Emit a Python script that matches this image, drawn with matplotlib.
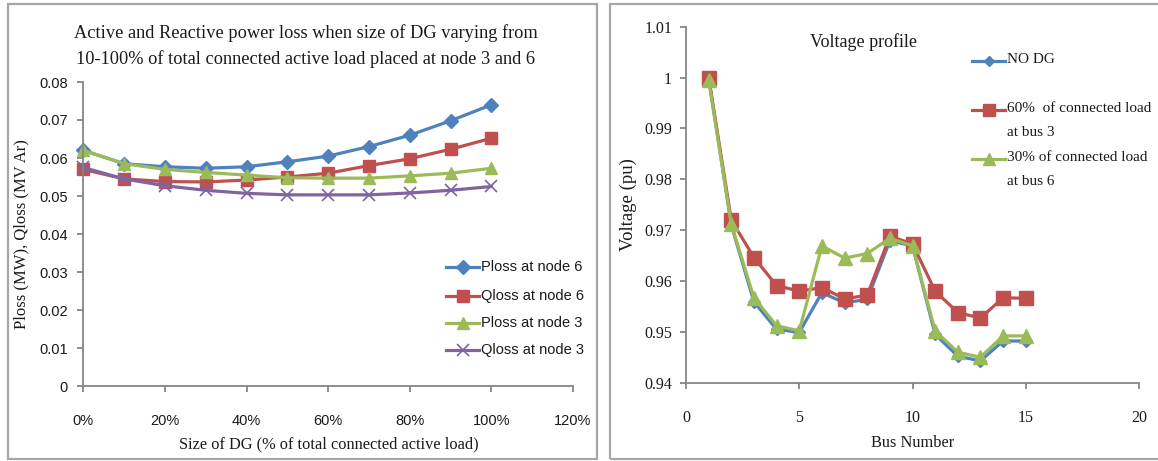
import matplotlib
matplotlib.use("Agg")
import matplotlib.pyplot as plt
from matplotlib.lines import Line2D
from matplotlib.patches import Rectangle

# ---------------- data ----------------
dg_size = [0.0, 0.1, 0.2, 0.3, 0.4, 0.5, 0.6, 0.7, 0.8, 0.9, 1.0]
ploss_node6 = [0.0620, 0.0585, 0.0577, 0.0573, 0.0577, 0.0590, 0.0605, 0.0630, 0.0660, 0.0698, 0.0740]
qloss_node6 = [0.0570, 0.0545, 0.0538, 0.0537, 0.0542, 0.0550, 0.0560, 0.0580, 0.0598, 0.0623, 0.0652]
ploss_node3 = [0.0620, 0.0585, 0.0570, 0.0562, 0.0555, 0.0548, 0.0547, 0.0547, 0.0553, 0.0560, 0.0573]
qloss_node3 = [0.0575, 0.0545, 0.0527, 0.0515, 0.0507, 0.0503, 0.0503, 0.0503, 0.0508, 0.0515, 0.0525]
left_labels = ["Ploss at node 6", "Qloss at node 6", "Ploss at node 3", "Qloss at node 3"]
left_xticks = ["0%", "20%", "40%", "60%", "80%", "100%", "120%"]

bus = list(range(1, 16))
v_no_dg = [1.0, 0.9710, 0.9559, 0.9505, 0.9499, 0.9577, 0.9557, 0.9564, 0.9679, 0.9669,
           0.9495, 0.9452, 0.9443, 0.9482, 0.9482]
v_60_bus3 = [1.0, 0.9720, 0.9646, 0.9591, 0.9580, 0.9587, 0.9565, 0.9572, 0.9688, 0.9673,
             0.9580, 0.9538, 0.9527, 0.9567, 0.9566]
v_30_bus6 = [0.9995, 0.9712, 0.9567, 0.9512, 0.9502, 0.9669, 0.9645, 0.9654, 0.9684, 0.9669,
             0.9502, 0.9460, 0.9450, 0.9492, 0.9492]
right_labels = ["NO DG", "60%  of connected load\nat bus 3", "30% of connected load\nat bus 6"]

# ---------------- style ----------------
BLUE, RED, GREEN, PURPLE = "#4F81BD", "#C0504D", "#9BBB59", "#8064A2"
AX_COL = "#868686"
TXT = "#1a1a1a"
SERIF = ["Liberation Serif", "DejaVu Serif"]
SANS = ["Liberation Sans Narrow", "Liberation Sans", "DejaVu Sans"]

W, H = 1158, 461
fig = plt.figure(figsize=(W / 100, H / 100), dpi=100)
fig.patch.set_facecolor("white")


def px_axes(x0, x1, ytop, ybot):
    return fig.add_axes([x0 / W, (H - ybot) / H, (x1 - x0) / W, (ybot - ytop) / H])


def frame(x0, y0, x1, y1):
    fig.add_artist(Rectangle((x0 / W, (H - y1) / H), (x1 - x0) / W, (y1 - y0) / H,
                             transform=fig.transFigure, fill=False,
                             edgecolor="#A6A6A6", linewidth=1.6))


frame(8, 4, 597, 459)
frame(610, 4, 1170, 459)


def style_axes(ax):
    for s in ("top", "right"):
        ax.spines[s].set_visible(False)
    for s in ("left", "bottom"):
        ax.spines[s].set_color(AX_COL)
        ax.spines[s].set_linewidth(1.3)
    ax.tick_params(axis="both", direction="out", length=4, width=1.3, color=AX_COL,
                   labelcolor=TXT)
    ax.set_facecolor("none")


# ---------------- left chart ----------------
axL = px_axes(83.3, 573, 82, 386)
style_axes(axL)
series_L = [
    (ploss_node6, BLUE, "D", 7, 1.0),
    (qloss_node6, RED, "s", 9, 1.0),
    (ploss_node3, GREEN, "^", 9, 1.0),
    (qloss_node3, PURPLE, "x", 8, 1.2),
]
for vals, c, m, ms, mew in series_L:
    axL.plot(dg_size, vals, color=c, lw=2.3, marker=m, ms=ms, mec=c, mfc=c, mew=mew,
             clip_on=False)
axL.set_xlim(0, 1.2)
axL.set_ylim(0, 0.08)
axL.set_xticks([i * 0.2 for i in range(7)])
axL.set_xticklabels(left_xticks, family=SANS, fontsize=10.5)
axL.set_yticks([i * 0.01 for i in range(9)])
axL.set_yticklabels(["0"] + ["%.2f" % (i * 0.01) for i in range(1, 9)], family=SANS, fontsize=10.5)
axL.tick_params(axis="x", pad=16)
axL.tick_params(axis="y", pad=7)

fig.text(306 / W, 1 - 46 / H,
         "Active and Reactive power loss when size of DG varying from\n"
         "10-100% of total connected active load placed at node 3 and 6",
         ha="center", va="center", family=SERIF, fontsize=13.2, color=TXT, linespacing=1.55)
fig.text(21 / W, 1 - 234 / H, "Ploss (MW), Qloss (MV Ar)", rotation=90, ha="center",
         va="center", family=SERIF, fontsize=12, color=TXT)
fig.text(329 / W, 1 - 444 / H, "Size of DG (% of total connected active load)", ha="center",
         va="center", family=SERIF, fontsize=11.8, color=TXT)

# manual legend (left)
leg_y = [267, 295.5, 323, 350]
for (vals, c, m, ms, mew), lab, yy in zip(series_L, left_labels, leg_y):
    fig.add_artist(Line2D([446 / W, 479 / W], [1 - yy / H] * 2, transform=fig.transFigure,
                          color=c, lw=2.3))
    fig.add_artist(Line2D([462.5 / W], [1 - yy / H], transform=fig.transFigure, color=c,
                          marker=m, ms=ms, mec=c, mfc=c, mew=mew, lw=0))
    fig.text(481 / W, 1 - yy / H, lab, ha="left", va="center", family=SANS, fontsize=10.5,
             color=TXT)

# ---------------- right chart ----------------
axR = px_axes(686, 1139, 26.7, 382.7)
style_axes(axR)
series_R = [
    (v_no_dg, BLUE, "D", 6, 1.0),
    (v_60_bus3, RED, "s", 10, 1.0),
    (v_30_bus6, GREEN, "^", 10, 1.0),
]
for vals, c, m, ms, mew in series_R:
    axR.plot(bus, vals, color=c, lw=2.3, marker=m, ms=ms, mec=c, mfc=c, mew=mew, clip_on=False)
axR.set_xlim(0, 20)
axR.set_ylim(0.94, 1.01)
axR.set_xticks([0, 5, 10, 15, 20])
axR.set_xticklabels(["0", "5", "10", "15", "20"], family=SERIF, fontsize=11.5)
yt = [0.94, 0.95, 0.96, 0.97, 0.98, 0.99, 1.0, 1.01]
axR.set_yticks(yt)
axR.set_yticklabels(["0.94", "0.95", "0.96", "0.97", "0.98", "0.99", "1", "1.01"],
                    family=SERIF, fontsize=11.5)
axR.tick_params(axis="x", pad=16)
axR.tick_params(axis="y", pad=6)

fig.text(864 / W, 1 - 42 / H, "Voltage profile", ha="center", va="center", family=SERIF,
         fontsize=13, color=TXT)
fig.text(628 / W, 1 - 205 / H, "Voltage (pu)", rotation=90, ha="center", va="center",
         family=SERIF, fontsize=13.5, color=TXT)
fig.text(913 / W, 1 - 443 / H, "Bus Number", ha="center", va="center", family=SERIF,
         fontsize=11.8, color=TXT)

leg_y_R = [61, 110, 159]
for (vals, c, m, ms, mew), lab, yy in zip(series_R, right_labels, leg_y_R):
    fig.add_artist(Line2D([972 / W, 1005 / W], [1 - yy / H] * 2, transform=fig.transFigure,
                          color=c, lw=2.3))
    fig.add_artist(Line2D([988.5 / W], [1 - yy / H], transform=fig.transFigure, color=c,
                          marker=m, ms=ms * 0.85, mec=c, mfc=c, mew=mew, lw=0))
    fig.text(1007 / W, 1 - (yy - 8) / H, lab, ha="left", va="top", family=SERIF, fontsize=11,
             color=TXT, linespacing=2.1)

fig.savefig("out.png", dpi=100, facecolor="white")
